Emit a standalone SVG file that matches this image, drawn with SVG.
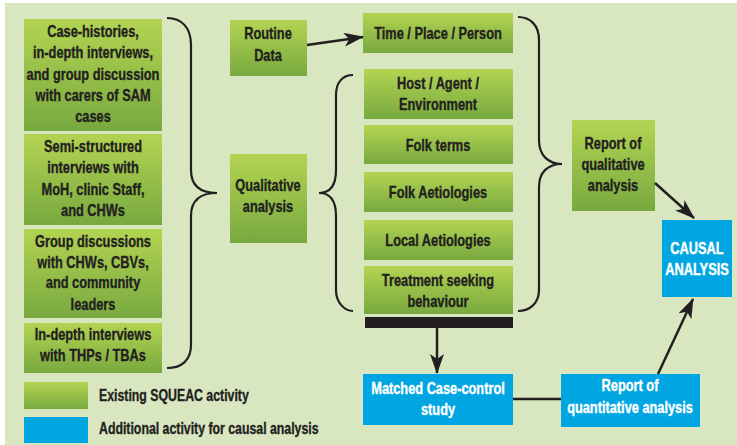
<svg xmlns="http://www.w3.org/2000/svg" width="737" height="445" viewBox="0 0 737 445">
<defs>
<linearGradient id="g" x1="0" y1="0" x2="0" y2="1">
<stop offset="0" stop-color="#b3d452"/>
<stop offset="1" stop-color="#78a93f"/>
</linearGradient>
<marker id="ah" viewBox="0 0 20 14" refX="19" refY="7" markerWidth="20" markerHeight="14" orient="auto" markerUnits="userSpaceOnUse">
<path d="M0,0 L20,7 L0,14 L5,7 z" fill="#231f20"/>
</marker>
<style>
.gb{fill:url(#g)}
.bb{fill:#00a6e1}
.t{font-family:"Liberation Sans",Arial,sans-serif;font-weight:bold;font-size:16px;fill:#231f20;stroke:#231f20;stroke-width:0.35;text-anchor:middle}
.w{fill:#ffffff;stroke:#ffffff}
.l{text-anchor:start}
.c{fill:none;stroke:#231f20;stroke-width:2.5}
.br{fill:none;stroke:#231f20;stroke-width:2.2}
</style>
</defs>
<rect x="0" y="0" width="737" height="445" fill="#ffffff"/>
<rect x="5" y="3" width="732" height="442" fill="#d9e7c0"/>

<g id="n-case-histories">
<rect class="gb" x="24" y="19" width="138" height="112"/>
<g transform="translate(93 0) scale(0.8 1)">
<text class="t" x="0" y="37">Case-histories,</text>
<text class="t" x="0" y="58">in-depth interviews,</text>
<text class="t" x="0" y="80">and group discussion</text>
<text class="t" x="0" y="101">with carers of SAM</text>
<text class="t" x="0" y="122">cases</text>
</g>
</g>
<g id="n-semi-structured">
<rect class="gb" x="24" y="134" width="138" height="91"/>
<g transform="translate(93 0) scale(0.8 1)">
<text class="t" x="0" y="152">Semi-structured</text>
<text class="t" x="0" y="173">interviews with</text>
<text class="t" x="0" y="195">MoH, clinic Staff,</text>
<text class="t" x="0" y="216">and CHWs</text>
</g>
</g>
<g id="n-group-discussions">
<rect class="gb" x="24" y="229" width="138" height="89"/>
<g transform="translate(93 0) scale(0.8 1)">
<text class="t" x="0" y="247">Group discussions</text>
<text class="t" x="0" y="268">with CHWs, CBVs,</text>
<text class="t" x="0" y="288">and community</text>
<text class="t" x="0" y="310">leaders</text>
</g>
</g>
<g id="n-thps">
<rect class="gb" x="24" y="323" width="138" height="50"/>
<g transform="translate(93 0) scale(0.8 1)">
<text class="t" x="0" y="340">In-depth interviews</text>
<text class="t" x="0" y="361">with THPs / TBAs</text>
</g>
</g>
<g id="n-routine">
<rect class="gb" x="230" y="20" width="77" height="56"/>
<g transform="translate(268 0) scale(0.8 1)">
<text class="t" x="0" y="39">Routine</text>
<text class="t" x="0" y="61">Data</text>
</g>
</g>
<g id="n-qualitative">
<rect class="gb" x="230" y="154" width="77" height="89"/>
<g transform="translate(268 0) scale(0.8 1)">
<text class="t" x="0" y="191">Qualitative</text>
<text class="t" x="0" y="212">analysis</text>
</g>
</g>
<g id="n-tpp">
<rect class="gb" x="363" y="13" width="150" height="40"/>
<g transform="translate(438 0) scale(0.8 1)">
<text class="t" x="0" y="39">Time / Place / Person</text>
</g>
</g>
<g id="n-host">
<rect class="gb" x="364" y="69" width="149" height="50"/>
<g transform="translate(438 0) scale(0.8 1)">
<text class="t" x="0" y="89">Host / Agent /</text>
<text class="t" x="0" y="110">Environment</text>
</g>
</g>
<g id="n-folk-terms">
<rect class="gb" x="364" y="125" width="149" height="39"/>
<g transform="translate(438 0) scale(0.8 1)">
<text class="t" x="0" y="151">Folk terms</text>
</g>
</g>
<g id="n-folk-aetiologies">
<rect class="gb" x="364" y="172" width="149" height="40"/>
<g transform="translate(438 0) scale(0.8 1)">
<text class="t" x="0" y="198">Folk Aetiologies</text>
</g>
</g>
<g id="n-local-aetiologies">
<rect class="gb" x="364" y="220" width="149" height="40"/>
<g transform="translate(438 0) scale(0.8 1)">
<text class="t" x="0" y="246">Local Aetiologies</text>
</g>
</g>
<g id="n-treatment">
<rect class="gb" x="364" y="266" width="149" height="48"/>
<g transform="translate(438 0) scale(0.8 1)">
<text class="t" x="0" y="286">Treatment seeking</text>
<text class="t" x="0" y="307">behaviour</text>
</g>
</g>
<g id="n-bar">
<rect x="365" y="317" width="148" height="11" fill="#231f20"/>
</g>
<g id="n-matched">
<rect class="bb" x="363" y="374" width="150" height="51"/>
<g transform="translate(438 0) scale(0.8 1)">
<text class="t w" x="0" y="394">Matched Case-control</text>
<text class="t w" x="0" y="415">study</text>
</g>
</g>
<g id="n-report-qual">
<rect class="gb" x="572" y="120" width="83" height="91"/>
<g transform="translate(613 0) scale(0.8 1)">
<text class="t" x="0" y="149">Report of</text>
<text class="t" x="0" y="170">qualitative</text>
<text class="t" x="0" y="191">analysis</text>
</g>
</g>
<g id="n-report-quant">
<rect class="bb" x="561" y="374" width="139" height="53"/>
<g transform="translate(630 0) scale(0.8 1)">
<text class="t w" x="0" y="391">Report of</text>
<text class="t w" x="0" y="413">quantitative analysis</text>
</g>
</g>
<g id="n-causal">
<rect class="bb" x="662" y="220" width="70" height="77"/>
<g transform="translate(697 0) scale(0.8 1)">
<text class="t w" x="0" y="254">CAUSAL</text>
<text class="t w" x="0" y="275">ANALYSIS</text>
</g>
</g>
<g id="legend">
<rect class="gb" x="24" y="382" width="64" height="27"/>
<rect class="bb" x="24" y="417" width="64" height="26"/>
<g transform="translate(99 0) scale(0.77 1)">
<text class="t l" x="0" y="401">Existing SQUEAC activity</text>
<text class="t l" x="0" y="434">Additional activity for causal analysis</text>
</g>
</g>

<g id="connectors">
<path class="br" d="M167,18 C182,18 191,28 191,45 L191,170 C191,185 200,193 217,193 C200,193 191,201 191,216 L191,345 C191,360 182,368 167,368"/>
<path class="br" d="M353,75 C343,75 336,82 336,95 L336,170 C336,185 330,193 319,193 C330,193 336,201 336,216 L336,290 C336,303 345,311 353,311"/>
<path class="br" d="M518,17 C530,17 539,25 539,40 L539,140 C539,155 548,164 562,164 C548,164 539,172 539,187 L539,290 C539,303 530,311 518,311"/>
<line class="c" x1="307" y1="45" x2="363" y2="37" marker-end="url(#ah)"/>
<line class="c" x1="437" y1="328" x2="437" y2="373" marker-end="url(#ah)"/>
<line class="c" x1="655" y1="183" x2="694" y2="218" marker-end="url(#ah)"/>
<line class="c" x1="658" y1="374" x2="693" y2="299" marker-end="url(#ah)"/>
<line class="c" x1="513" y1="399" x2="561" y2="399"/>
</g>
</svg>
